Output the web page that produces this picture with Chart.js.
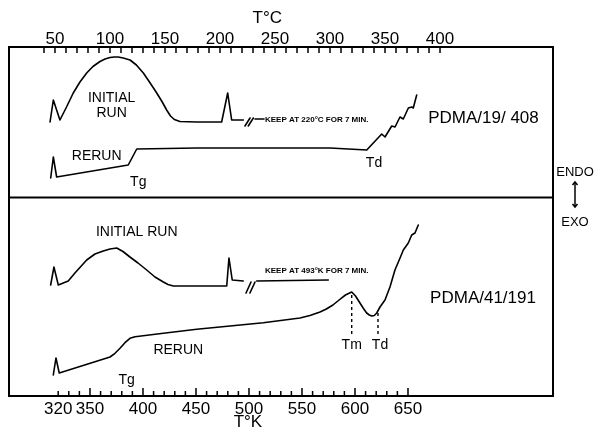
<!DOCTYPE html>
<html><head><meta charset="utf-8">
<script src="https://cdn.jsdelivr.net/npm/chart.js@4"></script>
<style>html,body{margin:0;padding:0;background:#fff}canvas{display:block}</style>
</head><body>
<canvas id="c" width="601" height="436"></canvas>
<script>
// ===== DATA (y = recorder deflection, arbitrary units) =====
// Upper panel: PDMA/19/408, temperature in °C
const topInitialC = [45.5, 48.5, 54.5, 60.5, 66.6, 72.7, 78.8, 84.5, 90.9, 95.5, 100.0, 104.0, 107.5, 112.0, 118.2, 124.0, 130.3, 136.5, 142.5, 147.5, 151.5, 155.0, 158.5, 163.6, 178.8, 201.5, 207.0, 210.6, 221.2];
const topInitialY = [27.4, 29.6, 27.6, 28.9, 30.3, 31.4, 32.3, 32.95, 33.45, 33.7, 33.85, 33.9, 33.9, 33.8, 33.6, 33.1, 32.3, 31.3, 30.3, 29.4, 28.6, 28.0, 27.65, 27.45, 27.4, 27.4, 30.3, 27.6, 27.6];
const topHoldC = [231.8, 240.0];
const topHoldY = [27.7, 27.7];
const topBreakC1 = [222.7, 227.3], topBreakY1 = [27.0, 27.8];
const topBreakC2 = [225.7, 230.3], topBreakY2 = [27.0, 27.8];
const topRerunC = [46.1, 48.5, 51.5, 116.6, 124.3, 178.8, 300.0, 333.4, 347.0, 350.0, 356.1, 359.1, 363.6, 366.6, 371.2, 374.3, 375.7, 378.8];
const topRerunY = [21.8, 23.9, 21.9, 23.1, 24.7, 24.8, 24.8, 24.6, 26.2, 25.9, 27.0, 26.9, 27.9, 27.7, 28.8, 28.9, 28.8, 30.1];

// Lower panel: PDMA/41/191, temperature in K
const botInitialK = [312.9, 316.0, 320.1, 329.5, 335.8, 346.9, 354.7, 362.5, 368.9, 375.2, 381.1, 387.7, 395.3, 403.5, 411.3, 419.2, 423.6, 428.6, 479.0, 481.1, 484.2, 494.6];
const botInitialY = [11.1, 12.9, 11.1, 11.5, 12.3, 13.6, 14.2, 14.5, 14.7, 14.8, 14.45, 13.9, 13.3, 12.6, 11.9, 11.4, 11.15, 11.0, 11.0, 13.8, 11.6, 11.5];
const botHoldK = [507.3, 574.8];
const botHoldY = [11.5, 11.6];
const botBreakK1 = [497.2, 501.9], botBreakY1 = [10.3, 11.4];
const botBreakK2 = [500.9, 505.7], botBreakY2 = [10.3, 11.4];
const botRerunK = [315.4, 317.9, 321.0, 368.9, 373.6, 378.3, 383.0, 387.7, 392.5, 419.2, 450.7, 482.1, 513.5, 548.1, 557.5, 567.0, 573.0, 579.2, 585.0, 591.0, 596.9, 600.5, 604.7, 608.0, 611.0, 613.5, 615.8, 618.2, 620.5, 623.6, 628.3, 633.0, 637.7, 642.5, 645.6, 650.3, 653.5, 656.6, 659.7];
const botRerunY = [2.1, 3.8, 2.3, 3.9, 4.27, 4.77, 5.33, 5.77, 5.93, 6.27, 6.67, 7.0, 7.33, 7.8, 8.05, 8.4, 8.7, 9.1, 9.6, 10.1, 10.4, 10.0, 9.3, 8.75, 8.3, 8.1, 8.0, 8.05, 8.3, 8.9, 9.6, 10.9, 12.6, 13.8, 14.6, 15.3, 16.1, 16.3, 17.1];
const TmK = 596.9, TdK = 621.7;
const TmY = [10.1, 6.2], TdY = [8.3, 6.2];

// Axes
const celsiusTicks = [50, 100, 150, 200, 250, 300, 350, 400];
const kelvinTicks = [320, 350, 400, 450, 500, 550, 600, 650];
const celsiusMinor = [40, 400, 10];   // from, to, step
const kelvinMinor = [320, 650, 10];
const panelDivider = 19.85;

// Annotations (anchored in data units)
const topNotes = [
  {t: 'INITIAL', x: 101.5, y: 29.8},
  {t: 'RUN', x: 101.5, y: 28.3},
  {t: 'RERUN', x: 87.9, y: 24.0},
  {t: 'Tg', x: 125.7, y: 21.4},
  {t: 'Td', x: 340.0, y: 23.3}
];
const topKeep = {t: 'KEEP AT 220°C FOR 7 MIN.', x: 240.9, y: 27.6};
const topSample = {t: 'PDMA/19/ 408', x: 439.5, y: 27.8};
const botNotes = [
  {t: 'INITIAL RUN', x: 394.1, y: 16.4},
  {t: 'RERUN', x: 433.3, y: 4.6},
  {t: 'Tg', x: 384.6, y: 1.6},
  {t: 'Tm', x: 596.9, y: 5.1},
  {t: 'Td', x: 623.6, y: 5.1}
];
const botKeep = {t: 'KEEP AT 493°K FOR 7 MIN.', x: 515.1, y: 12.5};
const botSample = {t: 'PDMA/41/191', x: 720.8, y: 9.8};

// ===== CHART =====
const FONT = 'Liberation Sans';
const pts = (xs, ys) => xs.map((x, i) => ({x, y: ys[i]}));
function ds(xs, ys, axis, extra) {
  return Object.assign({
    data: pts(xs, ys), xAxisID: axis, yAxisID: 'y',
    borderColor: '#000', borderWidth: 1.6, pointRadius: 0, fill: false, tension: 0,
    borderJoinStyle: 'round', borderCapStyle: 'round'
  }, extra || {});
}
const dashed = {borderDash: [3, 3], borderWidth: 1.4, borderCapStyle: 'butt'};

const decor = {
  id: 'decor',
  afterDraw(chart) {
    const {ctx, chartArea: a, scales: {xC, xK, y}} = chart;
    ctx.save();
    ctx.strokeStyle = '#000'; ctx.fillStyle = '#000';
    // frame and divider
    ctx.lineWidth = 2;
    ctx.strokeRect(a.left, a.top, a.right - a.left, a.bottom - a.top);
    const yd = y.getPixelForValue(panelDivider);
    ctx.beginPath(); ctx.moveTo(a.left, yd); ctx.lineTo(a.right, yd); ctx.stroke();
    // inward minor ticks
    ctx.lineWidth = 1.5;
    ctx.beginPath();
    for (let v = celsiusMinor[0]; v <= celsiusMinor[1]; v += celsiusMinor[2]) {
      const px = xC.getPixelForValue(v);
      ctx.moveTo(px, a.top); ctx.lineTo(px, a.top + 6);
    }
    for (let v = kelvinMinor[0]; v <= kelvinMinor[1]; v += kelvinMinor[2]) {
      const px = xK.getPixelForValue(v);
      ctx.moveTo(px, a.bottom); ctx.lineTo(px, a.bottom - (v % 50 === 0 ? 8 : 5));
    }
    ctx.stroke();
    // axis titles
    ctx.textAlign = 'center'; ctx.textBaseline = 'middle';
    ctx.font = '17px "' + FONT + '"';
    ctx.fillText('T°C', xC.getPixelForValue(243), xC.top + 18);
    ctx.fillText('T°K', xK.getPixelForValue(499), xK.top + 26);
    // notes
    ctx.font = '14px "' + FONT + '"';
    topNotes.forEach(n => ctx.fillText(n.t, xC.getPixelForValue(n.x), y.getPixelForValue(n.y)));
    botNotes.forEach(n => ctx.fillText(n.t, xK.getPixelForValue(n.x), y.getPixelForValue(n.y)));
    ctx.font = '17px "' + FONT + '"';
    ctx.fillText(topSample.t, xC.getPixelForValue(topSample.x), y.getPixelForValue(topSample.y));
    ctx.fillText(botSample.t, xK.getPixelForValue(botSample.x), y.getPixelForValue(botSample.y));
    ctx.textAlign = 'left';
    ctx.font = 'bold 8px "' + FONT + '"';
    ctx.fillText(topKeep.t, xC.getPixelForValue(topKeep.x), y.getPixelForValue(topKeep.y));
    ctx.fillText(botKeep.t, xK.getPixelForValue(botKeep.x), y.getPixelForValue(botKeep.y));
    // ENDO / EXO
    const ex = a.right + 22;
    ctx.textAlign = 'center';
    ctx.font = '13px "' + FONT + '"';
    ctx.fillText('ENDO', ex, y.getPixelForValue(22.4));
    ctx.fillText('EXO', ex, y.getPixelForValue(17.4));
    const y1 = y.getPixelForValue(21.4), y2 = y.getPixelForValue(18.9);
    ctx.lineWidth = 1.5;
    ctx.beginPath(); ctx.moveTo(ex, y1); ctx.lineTo(ex, y2); ctx.stroke();
    ctx.beginPath(); ctx.moveTo(ex - 2.5, y1 + 3); ctx.lineTo(ex, y1); ctx.lineTo(ex + 2.5, y1 + 3); ctx.stroke();
    ctx.beginPath(); ctx.moveTo(ex - 2.5, y2 - 3); ctx.lineTo(ex, y2); ctx.lineTo(ex + 2.5, y2 - 3); ctx.stroke();
    ctx.restore();
  }
};

new Chart(document.getElementById('c'), {
  type: 'line',
  data: {
    datasets: [
      ds(topInitialC, topInitialY, 'xC'),
      ds(topHoldC, topHoldY, 'xC'),
      ds(topBreakC1, topBreakY1, 'xC'),
      ds(topBreakC2, topBreakY2, 'xC'),
      ds(topRerunC, topRerunY, 'xC'),
      ds(botInitialK, botInitialY, 'xK'),
      ds(botHoldK, botHoldY, 'xK'),
      ds(botBreakK1, botBreakY1, 'xK'),
      ds(botBreakK2, botBreakY2, 'xK'),
      ds(botRerunK, botRerunY, 'xK'),
      ds([TmK, TmK], TmY, 'xK', dashed),
      ds([TdK, TdK], TdY, 'xK', dashed)
    ]
  },
  options: {
    responsive: false, animation: false, devicePixelRatio: 1,
    layout: {padding: {left: 9, right: 48, top: 0, bottom: 0}},
    plugins: {legend: {display: false}, tooltip: {enabled: false}},
    scales: {
      xC: {
        type: 'linear', position: 'top', min: 8.2, max: 502.7,
        afterBuildTicks: s => { s.ticks = celsiusTicks.map(v => ({value: v})); },
        afterFit: s => { s.height = 47; },
        grid: {display: false, drawTicks: false}, border: {display: false},
        ticks: {font: {family: FONT, size: 17, lineHeight: 0.8}, color: '#000', padding: 1, maxRotation: 0, autoSkip: false}
      },
      xK: {
        type: 'linear', position: 'bottom', min: 273.6, max: 786.8,
        afterBuildTicks: s => { s.ticks = kelvinTicks.map(v => ({value: v})); },
        afterFit: s => { s.height = 40; },
        grid: {display: false, drawTicks: false}, border: {display: false},
        ticks: {font: {family: FONT, size: 17, lineHeight: 0.8}, color: '#000', padding: 7, maxRotation: 0, autoSkip: false}
      },
      y: {display: false, min: 0, max: 34.9}
    }
  },
  plugins: [decor]
});
</script>
</body></html>
